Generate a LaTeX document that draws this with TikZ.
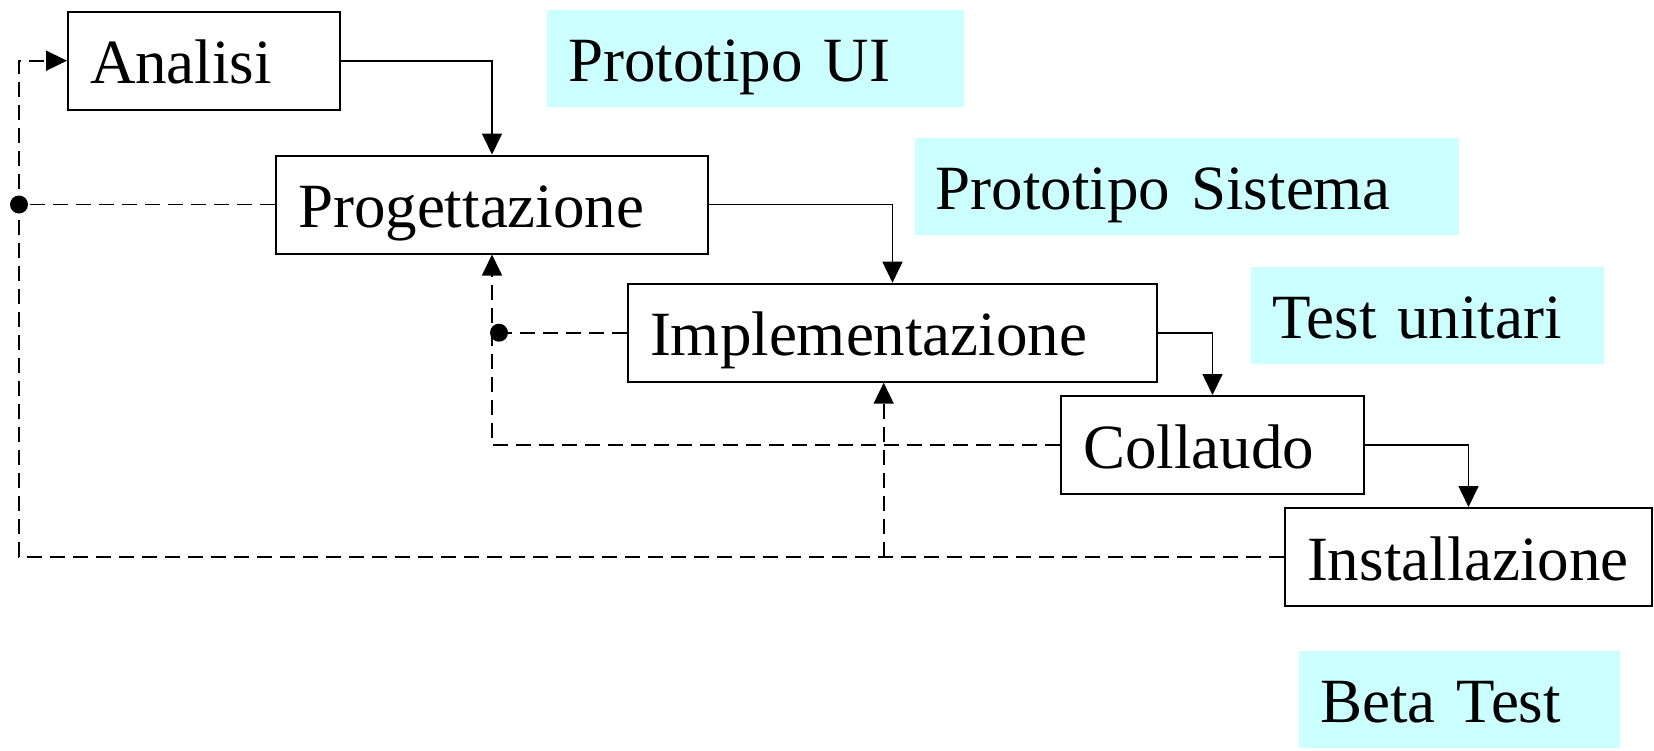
\documentclass[tikz,border=0pt]{standalone}
\usepackage{fontspec}
\setmainfont{Liberation Serif}
\usetikzlibrary{arrows.meta}
\definecolor{celeste}{HTML}{CCFFFF}

\begin{document}
\begin{tikzpicture}[x=0.5pt,y=-0.5pt,
  fase/.style = {draw, line width=1pt, anchor=north west, minimum height=49pt, inner xsep=11pt, inner ysep=0pt, align=left, text height=23pt, text depth=0pt, font=\fontsize{31.5}{36}\selectfont},
  proto/.style = {fill=celeste, anchor=north west, minimum height=48.5pt, inner xsep=10.5pt, inner ysep=0pt, align=left, text height=23pt, text depth=0pt, font=\fontsize{31.5}{36}\selectfont},
  avanti/.style = {line width=0.8pt, -{Triangle[length=10.5pt,width=10pt]}},
  ritorno/.style = {line width=0.8pt, dash pattern=on 7.5pt off 4pt},
  punta/.style = {-{Triangle[length=10.5pt,width=10pt]}},
  dot/.style = {circle, fill, inner sep=0pt, minimum size=9pt}]
\useasboundingbox (0,0) rectangle (1654,750);
% fasi
\node[fase, text width=114pt] (ana) at (67,10.7) {Analisi};
\node[fase, text width=194pt] (prog) at (275,154.5) {Progettazione};
\node[fase, text width=242.5pt] (impl) at (627,282.7) {Implementazione};
\node[fase, text width=129.5pt] (coll) at (1060,395) {Collaudo};
\node[fase, text width=161.5pt] (inst) at (1284,507) {Installazione};
% prototipi e test
\node[proto, text width=187.5pt] (pui) at (547,10) {Prototipo UI};
\node[proto, text width=251pt] (psis) at (914.5,138) {Prototipo Sistema};
\node[proto, text width=155.5pt] (tu) at (1251,267) {Test unitari};
\node[proto, text width=139.5pt] (bt) at (1299,651) {Beta Test};
% flusso in avanti
\draw[avanti] (ana.east) -| (prog.north);
\draw[avanti] (prog.east) -| (impl.north);
\draw[avanti] (impl.east) -| (coll.north);
\draw[avanti] (coll.east) -| (inst.north);
% ritorni
\coordinate (sx) at (19,0);
\coordinate (su) at (883.7,0);
\coordinate (dx) at (499,0);
\node[dot] (d1) at (prog.west -| sx) {};
\node[dot] (d2) at (impl.west -| dx) {};
\draw[ritorno, punta] (inst.west) -- (inst.west -| sx) |- (ana.west);
\draw[ritorno] (prog.west) -- (d1);
\draw[ritorno, punta] (inst.west -| su) -- (impl.south -| su);
\draw[ritorno] (impl.west) -- (d2);
\draw[ritorno, punta] (coll.west) -| (prog.south);
\end{tikzpicture}
\end{document}
